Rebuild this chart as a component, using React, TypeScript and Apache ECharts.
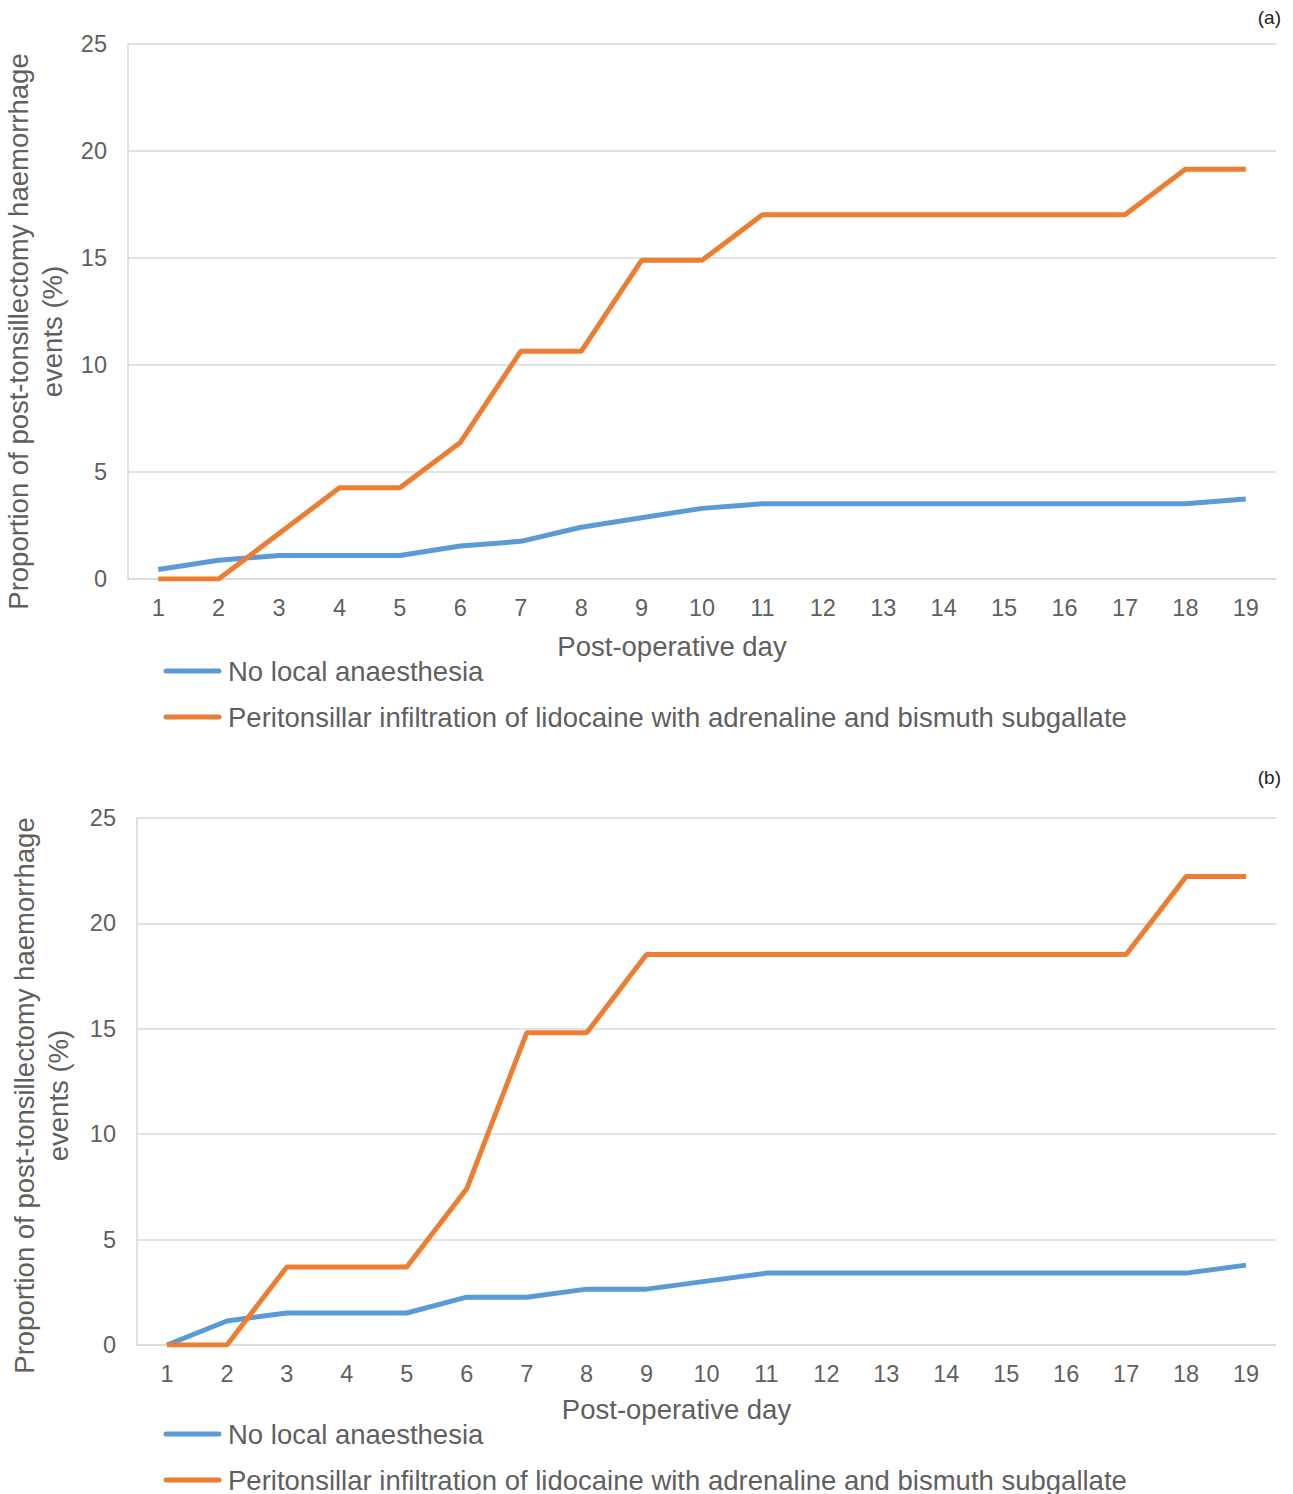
import React, { useEffect, useRef } from "react";
import * as echarts from "echarts";

const days = ["1","2","3","4","5","6","7","8","9","10","11","12","13","14","15","16","17","18","19"];
const seriesNames = ["No local anaesthesia", "Peritonsillar infiltration of lidocaine with adrenaline and bismuth subgallate"];

const noLocalA = [0.44,0.88,1.1,1.1,1.1,1.54,1.76,2.42,2.86,3.3,3.52,3.52,3.52,3.52,3.52,3.52,3.52,3.52,3.74];
const infiltrationA = [0,0,2.13,4.26,4.26,6.38,10.64,10.64,14.89,14.89,17.02,17.02,17.02,17.02,17.02,17.02,17.02,19.15,19.15];

const noLocalB = [0,1.14,1.52,1.52,1.52,2.27,2.27,2.65,2.65,3.03,3.41,3.41,3.41,3.41,3.41,3.41,3.41,3.41,3.79];
const infiltrationB = [0,0,3.7,3.7,3.7,7.41,14.81,14.81,18.52,18.52,18.52,18.52,18.52,18.52,18.52,18.52,18.52,22.22,22.22];

const panelLabels = ["(a)", "(b)"];
const yTitle = "Proportion of post-tonsillectomy haemorrhage\nevents (%)";
const xTitle = "Post-operative day";

const FONT = "'Liberation Sans', Arial, Helvetica, sans-serif";
const GRAY = "#5f5f5f";
const BLUE = "#5B9BD5";
const ORANGE = "#ED7D31";
const colors = [BLUE, ORANGE];
const TITLE_SIZE = 27.5;

export default function App() {
  const ref = useRef<HTMLDivElement>(null);
  useEffect(() => {
    document.body.style.margin = "0";
    const chart = echarts.init(ref.current!, undefined, { renderer: "svg" });
    const grids = [
      { left: 128, top: 44, width: 1148, height: 535, containLabel: false, outerBoundsMode: "none" },
      { left: 137, top: 818, width: 1139, height: 527, containLabel: false, outerBoundsMode: "none" },
    ];
    const mkX = (i: number) => ({
      type: "category",
      gridIndex: i,
      data: days,
      boundaryGap: true,
      axisLine: { lineStyle: { color: "#d9d9d9", width: 1.5 } },
      axisTick: { show: false },
      axisLabel: { color: GRAY, fontSize: 23.5, fontFamily: FONT, margin: 17 },
      name: xTitle,
      nameLocation: "middle",
      nameGap: i === 0 ? 53 : 50,
      nameTextStyle: { color: GRAY, fontSize: TITLE_SIZE, fontFamily: FONT, padding: [0, 60, 0, 0] },
    });
    const mkY = (i: number) => ({
      type: "value",
      gridIndex: i,
      min: 0,
      max: 25,
      interval: 5,
      axisLine: { show: true, lineStyle: { color: "#d9d9d9", width: 1.5 } },
      axisTick: { show: false },
      splitLine: { lineStyle: { color: "#d9d9d9", width: 1.5 } },
      axisLabel: { color: GRAY, fontSize: 23.5, fontFamily: FONT, margin: 21 },
      name: yTitle,
      nameLocation: "middle",
      nameGap: i === 0 ? 53 : 62,
      nameTextStyle: {
        color: GRAY, fontSize: TITLE_SIZE, fontFamily: FONT, lineHeight: 34, align: "center",
        padding: i === 0 ? [0, 40, 0, 0] : [0, 28, 0, 0],
      },
    });
    const mkSeries = (name: string, data: number[], color: string, i: number) => ({
      type: "line",
      name,
      xAxisIndex: i,
      yAxisIndex: i,
      data,
      symbol: "none",
      lineStyle: { color, width: 5 },
      itemStyle: { color },
    });
    const legendItems = (ys: number[]) =>
      seriesNames.flatMap((name, k) => [
        {
          type: "line",
          shape: { x1: 166, y1: ys[k], x2: 219, y2: ys[k] },
          style: { stroke: colors[k], lineWidth: 5, lineCap: "round" },
        },
        {
          type: "text",
          x: 228,
          y: ys[k],
          style: { text: name, fill: GRAY, fontSize: TITLE_SIZE, fontFamily: FONT, verticalAlign: "middle", align: "left" },
        },
      ]);
    chart.setOption({
      animation: false,
      backgroundColor: "#ffffff",
      grid: grids,
      xAxis: [mkX(0), mkX(1)],
      yAxis: [mkY(0), mkY(1)],
      series: [
        mkSeries(seriesNames[0], noLocalA, BLUE, 0),
        mkSeries(seriesNames[1], infiltrationA, ORANGE, 0),
        mkSeries(seriesNames[0], noLocalB, BLUE, 1),
        mkSeries(seriesNames[1], infiltrationB, ORANGE, 1),
      ],
      graphic: [
        ...legendItems([671, 717]),
        ...legendItems([1434, 1480]),
        { type: "text", right: 12, top: 8, style: { text: panelLabels[0], fill: "#222", fontSize: 19, fontFamily: FONT } },
        { type: "text", right: 12, top: 768, style: { text: panelLabels[1], fill: "#222", fontSize: 19, fontFamily: FONT } },
      ],
    });
    return () => chart.dispose();
  }, []);
  return <div ref={ref} style={{ width: 1293, height: 1494 }} />;
}
